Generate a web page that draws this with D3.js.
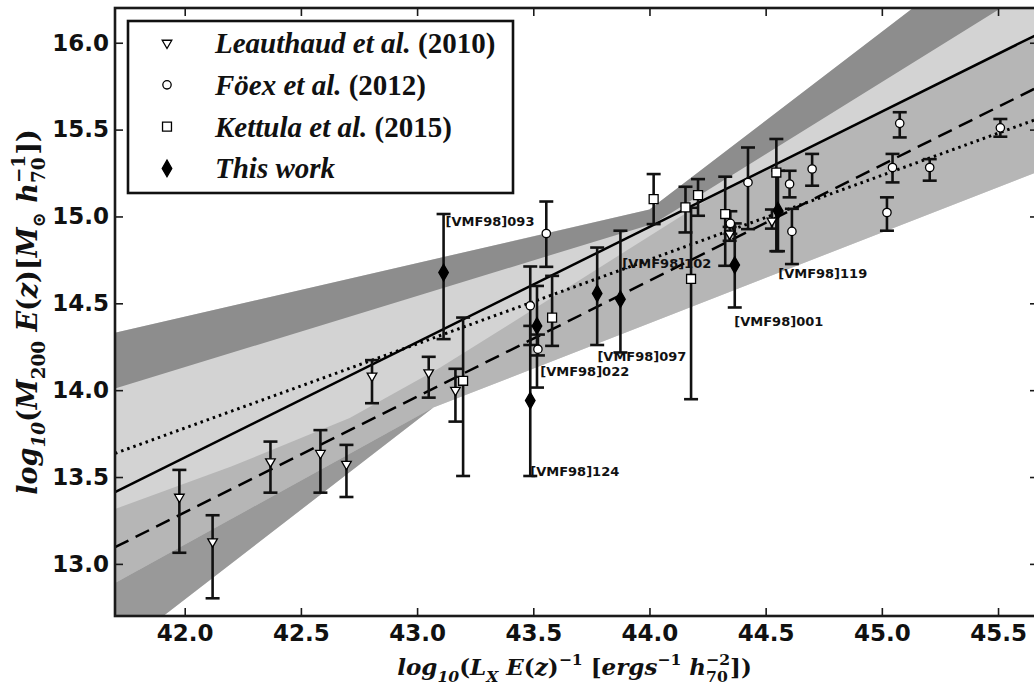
<!DOCTYPE html>
<html>

<head>
    <meta charset="UTF-8">
    <title>M-L relation</title>
    <script src="https://cdnjs.cloudflare.com/ajax/libs/d3/7.8.5/d3.min.js"></script>
    <style>
        body { margin: 0; background: #fff; }
        .tick text { font-family: "DejaVu Sans", sans-serif; font-weight: bold; font-size: 23px; fill: #111; }
        .tick line { stroke: #1a1a1a; stroke-width: 1.6; }
        .serif { font-family: "Liberation Serif", "DejaVu Serif", serif; font-weight: bold; fill: #111; }
        .title { font-family: "DejaVu Serif", serif; font-weight: bold; fill: #111; }
        .vmf { font-family: "DejaVu Sans", sans-serif; font-weight: bold; font-size: 13px; fill: #111; }
    </style>
</head>

<body>
    <svg id="chart"></svg>
    <script>

        var xTicks = [42.0, 42.5, 43.0, 43.5, 44.0, 44.5, 45.0, 45.5]
        var yTicks = [13.0, 13.5, 14.0, 14.5, 15.0, 15.5, 16.0]

        // fits: two end points each (log Lx, log M)
        var fitSolid = [[41.7, 13.413], [45.675, 16.052]]
        var fitDashed = [[41.7, 13.096], [45.675, 15.747]]
        var fitDotted = [[41.7, 13.636], [45.675, 15.564]]

        // outlines of the shaded regions
        var bandLight = [[41.6, 14.30], [44.0, 15.04], [45.12, 16.185], [45.5, 16.58], [46.2, 16.58],
            [46.2, 15.534], [43.07, 13.9], [41.908, 12.7], [41.6, 12.382]]
        var bandMid = [[41.6, 13.268], [42.2, 13.56], [42.71, 13.84], [43.1, 14.13], [43.47, 14.44], [44.3, 15.14], [45.675, 16.052],
            [46.2, 16.40], [46.2, 15.534], [43.07, 13.9], [41.6, 12.816]]
        var bandLowDark = [[41.6, 12.816], [43.07, 13.9], [41.6, 12.382]]
        var bandHighDark = [[41.6, 14.299], [44.0, 15.04], [45.12, 16.185], [45.507, 16.58], [45.97, 16.58],
            [45.496, 16.185], [44.02, 14.96], [41.6, 13.969]]

        // x, y, y low, y high
        var leauthaud = [
            [41.977, 13.385, 13.064, 13.541],
            [42.120, 13.128, 12.802, 13.280],
            [42.369, 13.589, 13.410, 13.704],
            [42.584, 13.637, 13.410, 13.770],
            [42.696, 13.574, 13.385, 13.685],
            [42.806, 14.082, 13.925, 14.173],
            [43.050, 14.101, 13.957, 14.192],
            [43.165, 14.000, 13.819, 14.123],
            [44.345, 14.900, 14.860, 14.940],
            [44.527, 14.975, 14.930, 15.040]
        ]
        var foex = [
            [43.487, 14.486, 14.260, 14.712],
            [43.520, 14.236, 14.200, 14.320],
            [43.556, 14.902, 14.710, 15.086],
            [44.348, 14.960, 14.900, 15.030],
            [44.424, 15.196, 14.927, 15.397],
            [44.603, 15.187, 15.110, 15.263],
            [44.613, 14.914, 14.726, 15.044],
            [44.700, 15.273, 15.177, 15.360],
            [45.022, 15.023, 14.918, 15.110],
            [45.046, 15.282, 15.196, 15.360],
            [45.077, 15.536, 15.455, 15.600],
            [45.206, 15.282, 15.206, 15.330],
            [45.510, 15.510, 15.459, 15.561]
        ]
        var kettula = [
            [43.198, 14.054, 13.506, 14.418],
            [43.581, 14.418, 14.255, 14.658],
            [44.018, 15.100, 14.956, 15.244],
            [44.155, 15.052, 14.908, 15.171],
            [44.179, 14.640, 13.948, 15.050],
            [44.209, 15.123, 15.004, 15.215],
            [44.326, 15.014, 14.716, 15.229],
            [44.546, 15.253, 14.800, 15.446]
        ]
        var workNames = ["[VMF98]093", "[VMF98]124", "[VMF98]022", "[VMF98]097", "[VMF98]102", "[VMF98]001", "[VMF98]119"]
        var thisWork = [
            [43.114, 14.677, 14.294, 15.014],
            [43.487, 13.940, 13.506, 14.370],
            [43.516, 14.370, 14.015, 14.600],
            [43.775, 14.557, 14.260, 14.821],
            [43.875, 14.524, 14.217, 14.918],
            [44.367, 14.720, 14.476, 14.960],
            [44.553, 15.033, 14.800, 15.263]
        ]
        // where each name is written (left end, baseline)
        var workLabelAt = [[43.122, 14.946], [43.487, 13.506], [43.530, 14.083], [43.776, 14.169],
            [43.883, 14.704], [44.365, 14.370], [44.554, 14.647]]

        var legendNames = [
            [["Leauthaud et al.", false], [" (2010)", true]],
            [["Föex et al.", false], [" (2012)", true]],
            [["Kettula et al.", false], [" (2015)", true]],
            [["This work", false]]
        ]

        var svgWidth = 1034,
            svgHeight = 689;
        var margin = { top: 8, right: -4, bottom: 73, left: 115 };
        var width = svgWidth - margin.left - margin.right;
        var height = svgHeight - margin.top - margin.bottom;

        var svg = d3.select("#chart")
            .attr("width", svgWidth)
            .attr("height", svgHeight);

        var g = svg.append("g")
            .attr("transform", "translate(" + margin.left + "," + margin.top + ")");

        var x = d3.scaleLinear().domain([41.7, 45.672]).range([0, width]);
        var y = d3.scaleLinear().domain([12.7, 16.2]).range([height, 0]);

        g.append("clipPath").attr("id", "plotclip")
            .append("rect").attr("width", width).attr("height", height);

        var plot = g.append("g").attr("clip-path", "url(#plotclip)");

        var line = d3.line()
            .x(function (d) { return x(d[0]) })
            .y(function (d) { return y(d[1]) });

        // shaded regions
        [[bandLight, "#d3d3d3"], [bandMid, "#b6b6b6"], [bandLowDark, "#999999"], [bandHighDark, "#8d8d8d"]]
            .forEach(function (b) {
                plot.append("path")
                    .attr("d", line(b[0]) + "Z")
                    .attr("fill", b[1]);
            });

        // fit lines
        plot.append("path").attr("d", line(fitSolid))
            .attr("fill", "none").attr("stroke", "#000").attr("stroke-width", 2.5);
        plot.append("path").attr("d", line(fitDashed))
            .attr("fill", "none").attr("stroke", "#000").attr("stroke-width", 2.5)
            .attr("stroke-dasharray", "15,8");
        plot.append("path").attr("d", line(fitDotted))
            .attr("fill", "none").attr("stroke", "#000").attr("stroke-width", 3)
            .attr("stroke-dasharray", "2.5,4");

        // error bars
        function errorBars(data) {
            var eb = plot.append("g").attr("stroke", "#111").attr("stroke-width", 2.6).attr("fill", "none");
            data.forEach(function (d) {
                var px = x(d[0]);
                eb.append("line").attr("x1", px).attr("x2", px).attr("y1", y(d[2])).attr("y2", y(d[3]));
                [d[2], d[3]].forEach(function (v) {
                    eb.append("line").attr("x1", px - 7).attr("x2", px + 7).attr("y1", y(v)).attr("y2", y(v));
                });
            });
        }

        var symTri = d3.symbol().type(d3.symbolTriangle).size(40);
        var symCircle = d3.symbol().type(d3.symbolCircle).size(55);
        var symSquare = d3.symbol().type(d3.symbolSquare).size(80);
        var symDiamond = d3.symbol().type(d3.symbolDiamond).size(80);

        function markers(data, sym, fill, rot) {
            plot.append("g").selectAll("path")
                .data(data)
                .join("path")
                .attr("d", sym)
                .attr("transform", function (d) {
                    return "translate(" + x(d[0]) + "," + y(d[1]) + ")" + (rot ? " rotate(180)" : "");
                })
                .attr("fill", fill)
                .attr("stroke", "#000")
                .attr("stroke-width", 1.3);
        }

        errorBars(leauthaud);
        errorBars(foex);
        errorBars(kettula);
        errorBars(thisWork);
        markers(leauthaud, symTri, "#fff", true);
        markers(foex, symCircle, "#fff", false);
        markers(kettula, symSquare, "#fff", false);
        markers(thisWork, symDiamond, "#000", false);

        // names of the groups
        g.append("g").selectAll("text")
            .data(workNames)
            .join("text")
            .attr("class", "vmf")
            .attr("x", function (d, i) { return x(workLabelAt[i][0]) })
            .attr("y", function (d, i) { return y(workLabelAt[i][1]) })
            .text(function (d) { return d });

        // axes, ticks pointing inward on all sides
        g.append("g")
            .attr("transform", "translate(0," + height + ")")
            .call(d3.axisBottom(x).tickValues(xTicks).tickFormat(d3.format(".1f")).tickSizeInner(-8).tickSizeOuter(0).tickPadding(9));
        g.append("g")
            .call(d3.axisTop(x).tickValues(xTicks).tickFormat("").tickSizeInner(-8).tickSizeOuter(0));
        g.append("g")
            .call(d3.axisLeft(y).tickValues(yTicks).tickFormat(d3.format(".1f")).tickSizeInner(-8).tickSizeOuter(0).tickPadding(6));
        g.append("g")
            .attr("transform", "translate(" + width + ",0)")
            .call(d3.axisRight(y).tickValues(yTicks).tickFormat("").tickSizeInner(-8).tickSizeOuter(0));
        g.selectAll(".domain").remove();

        g.append("rect")
            .attr("width", width).attr("height", height)
            .attr("fill", "none").attr("stroke", "#1a1a1a").attr("stroke-width", 2.6);

        // legend
        var leg = svg.append("g").attr("transform", "translate(128,21)");
        leg.append("rect").attr("width", 385).attr("height", 172)
            .attr("fill", "#fff").attr("stroke", "#111").attr("stroke-width", 2.6);
        var legSyms = [[symTri, "#fff", true], [symCircle, "#fff", false], [symSquare, "#fff", false], [symDiamond, "#000", false]];
        legendNames.forEach(function (parts, i) {
            var cy = 22 + i * 41.8;
            leg.append("path")
                .attr("d", legSyms[i][0])
                .attr("transform", "translate(39," + cy + ")" + (legSyms[i][2] ? " rotate(180)" : ""))
                .attr("fill", legSyms[i][1]).attr("stroke", "#000").attr("stroke-width", 1.3);
            var t = leg.append("text").attr("class", "serif")
                .attr("x", 87).attr("y", cy + 10)
                .style("font-size", "29px");
            parts.forEach(function (p) {
                t.append("tspan").style("font-style", p[1] ? "normal" : "italic").text(p[0]);
            });
        });

        // axis titles with sub- and superscripts
        function mathText(sel, parts, size) {
            var cur = 0, prev = null;
            parts.forEach(function (p) {
                var off = p.k === "sub" ? size * 0.3 : p.k === "sup" ? -size * 0.45 : 0;
                var ts = sel.append("tspan")
                    .attr("dy", off - cur)
                    .style("font-size", (p.k ? size * 0.68 : size) + "px")
                    .style("font-style", p.up ? "normal" : "italic")
                    .text(p.t);
                if (p.stack && prev) ts.attr("dx", -prev.node().getComputedTextLength());
                cur = off;
                prev = ts;
            });
        }

        var xTitle = svg.append("text").attr("class", "title")
            .attr("x", margin.left + width / 2 - 2).attr("y", 675)
            .attr("text-anchor", "middle");
        mathText(xTitle, [
            { t: "log" }, { t: "10", k: "sub" }, { t: "(", up: true }, { t: "L" }, { t: "X", k: "sub" },
            { t: " E" }, { t: "(", up: true }, { t: "z" }, { t: ")", up: true }, { t: "−1", k: "sup", up: true },
            { t: " [", up: true }, { t: "ergs" }, { t: "−1", k: "sup", up: true }, { t: " h" },
            { t: "70", k: "sub", up: true }, { t: "−2", k: "sup", up: true, stack: true }, { t: "])", up: true }
        ], 23);

        var yTitle = svg.append("text").attr("class", "title")
            .attr("transform", "translate(37," + (margin.top + height / 2) + ") rotate(-90)")
            .attr("text-anchor", "middle");
        mathText(yTitle, [
            { t: "log" }, { t: "10", k: "sub" }, { t: "(", up: true }, { t: "M" }, { t: "200", k: "sub", up: true },
            { t: " E" }, { t: "(", up: true }, { t: "z" }, { t: ")", up: true }, { t: "[", up: true }, { t: "M" },
            { t: "⊙", k: "sub", up: true }, { t: " h" }, { t: "70", k: "sub", up: true },
            { t: "−1", k: "sup", up: true, stack: true }, { t: "])", up: true }
        ], 27);

    </script>
</body>

</html>
